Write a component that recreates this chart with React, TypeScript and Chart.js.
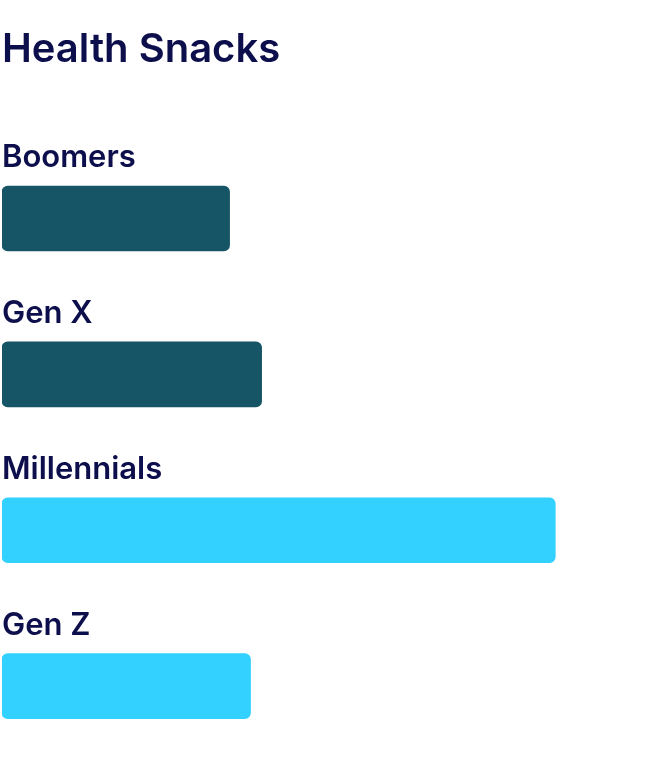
import React, { useEffect, useRef } from "react"
import { Chart, registerables } from "chart.js"

Chart.register(...registerables)

const chartTitle = "Health Snacks"
const generations = ["Boomers", "Gen X", "Millennials", "Gen Z"]
const shares = [34.8, 39.7, 84.6, 38]
const barColors = ["#155566", "#155566", "#33D1FF", "#33D1FF"]

const textColor = "#0d0f4c"

// draws each generation's name just above its bar
const barLabels = {
  id: "barLabels",
  afterDatasetsDraw(chart: any) {
    const { ctx } = chart
    const meta = chart.getDatasetMeta(0)
    ctx.save()
    ctx.font = "600 31px Inter"
    ctx.fillStyle = textColor
    ctx.textBaseline = "alphabetic"
    ctx.textAlign = "left"
    meta.data.forEach((bar: any, i: number) => {
      const { y, height } = bar.getProps(["y", "height"], true)
      ctx.fillText(chart.data.labels[i], 2, y - height / 2 - 19)
    })
    ctx.restore()
  },
}

const App: React.FC = () => {
  const chartRef = useRef<HTMLCanvasElement | null>(null)

  useEffect(() => {
    if (!chartRef.current) return
    const chart = new Chart(chartRef.current, {
      type: "bar",
      data: {
        labels: generations,
        datasets: [
          {
            data: shares,
            backgroundColor: barColors,
            borderRadius: 6,
            borderSkipped: false,
            barThickness: 65,
          },
        ],
      },
      options: {
        indexAxis: "y",
        responsive: true,
        maintainAspectRatio: false,
        animation: false,
        layout: { padding: { left: 2, right: 0, top: 0, bottom: 0 } },
        plugins: {
          legend: { display: false },
          tooltip: { enabled: false },
          title: {
            display: true,
            text: chartTitle,
            align: "start",
            color: textColor,
            font: { family: "Inter", size: 40, weight: "600" },
            padding: { top: 25.6, bottom: 67 },
          },
        },
        scales: {
          x: { display: false, min: 0, max: 100 },
          y: { display: false },
        },
      },
      plugins: [barLabels],
    })
    return () => {
      chart.destroy()
    }
  }, [])

  return (
    <div style={{ position: "fixed", left: 0, top: 0, width: 656, height: 764 }}>
      <canvas ref={chartRef} />
    </div>
  )
}

export default App
